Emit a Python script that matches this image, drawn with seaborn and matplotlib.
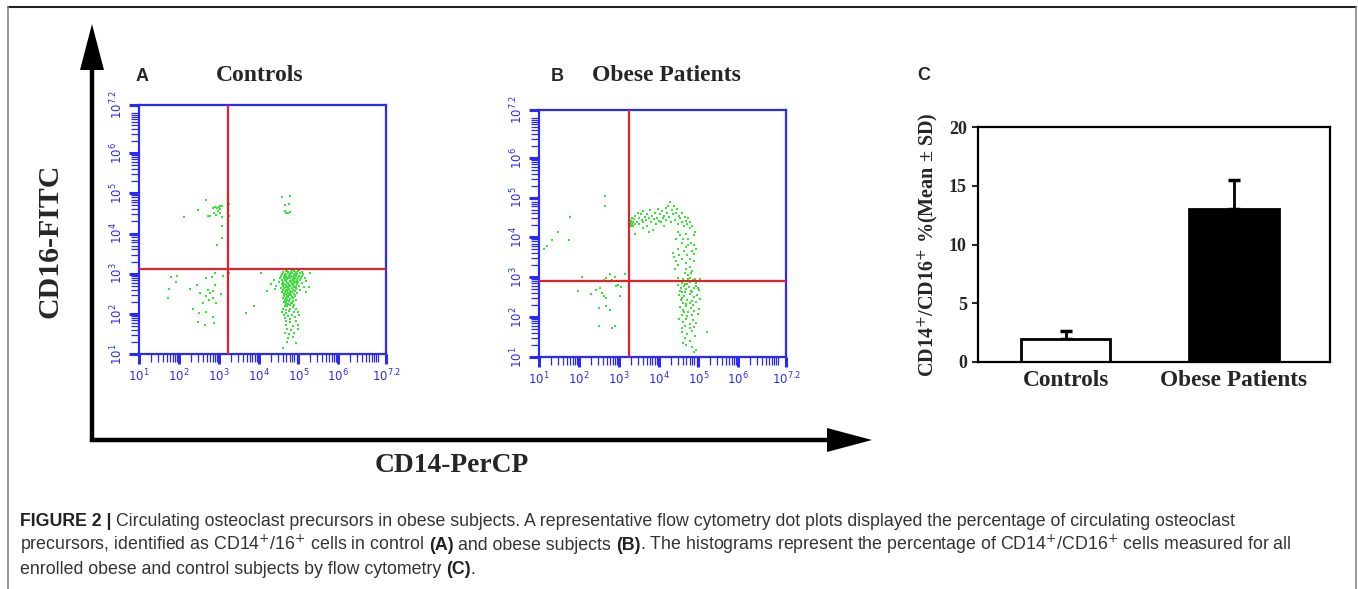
import numpy as np
import pandas as pd
import matplotlib
matplotlib.use("Agg")
import matplotlib.pyplot as plt
import seaborn as sns
from matplotlib.ticker import FixedLocator, FixedFormatter, NullFormatter

# --- data: log10 fluorescence (CD14-PerCP, CD16-FITC) ---

# (A) controls, one list per quadrant
ctrl_ul = [(2.68, 4.83), (2.49, 4.59), (2.12, 4.40), (2.73, 4.44), (2.79, 4.44), (2.86, 4.63),
           (2.90, 4.65), (2.96, 4.63), (3.01, 4.67), (3.04, 4.68), (3.08, 4.69), (2.98, 4.57),
           (3.04, 4.50), (2.93, 4.46), (3.08, 4.42), (3.26, 4.73), (3.26, 4.44), (3.09, 4.19),
           (3.09, 3.88), (2.97, 3.71), (3.03, 4.60), (2.88, 4.50)]
ctrl_ur = [(4.58, 4.90), (4.79, 4.93), (4.67, 4.70), (4.77, 4.73), (4.67, 4.57), (4.73, 4.52),
           (4.80, 4.54), (4.69, 4.50)]
ctrl_ll = [(1.80, 2.91), (1.95, 2.94), (1.94, 2.79), (1.75, 2.63), (1.72, 2.39), (2.27, 2.61),
           (2.46, 2.72), (2.52, 2.53), (2.68, 2.89), (2.82, 2.91), (2.90, 3.01), (3.11, 2.94),
           (2.90, 2.72), (2.73, 2.59), (2.78, 2.51), (2.86, 2.58), (2.76, 2.34), (2.86, 2.39),
           (2.94, 2.28), (3.07, 2.49), (2.68, 2.44), (2.36, 2.13), (2.68, 2.05), (2.51, 2.01),
           (2.61, 2.26), (2.49, 1.80), (2.65, 1.72), (2.86, 1.93), (2.88, 1.76)]
ctrl_lr = [(3.26, 3.01), (3.68, 2.03), (3.89, 2.20), (4.07, 3.01), (4.22, 2.58), (4.32, 2.74),
           (5.29, 3.01), (5.27, 2.68), (4.38, 2.85), (4.42, 2.62), (5.20, 2.82), (5.18, 2.55),
           (4.66, 3.11), (4.72, 3.09), (4.78, 3.12), (4.85, 3.10), (4.90, 3.08), (4.96, 3.11), (5.02, 3.09),
           (4.62, 3.04), (4.70, 3.06), (4.75, 3.03), (4.81, 3.05), (4.88, 3.07), (4.93, 3.04), (5.00, 3.06),
           (5.08, 3.03), (4.60, 3.00), (4.66, 2.98), (4.73, 3.01), (4.79, 2.99), (4.84, 3.02), (4.91, 2.98),
           (4.97, 3.00), (5.04, 3.01), (5.12, 2.99), (4.57, 2.95), (4.64, 2.94), (4.70, 2.96), (4.77, 2.93),
           (4.82, 2.95), (4.88, 2.96), (4.95, 2.94), (5.01, 2.95), (5.10, 2.93), (4.55, 2.90), (4.63, 2.89),
           (4.68, 2.91), (4.74, 2.88), (4.80, 2.90), (4.86, 2.91), (4.92, 2.89), (4.99, 2.90), (5.06, 2.88),
           (5.16, 2.90), (4.60, 2.85), (4.67, 2.84), (4.72, 2.86), (4.78, 2.83), (4.85, 2.85), (4.90, 2.86),
           (4.97, 2.84), (5.03, 2.85), (4.52, 2.80), (4.62, 2.79), (4.69, 2.81), (4.75, 2.78), (4.81, 2.80),
           (4.88, 2.81), (4.94, 2.79), (5.00, 2.80), (5.08, 2.78), (4.58, 2.75), (4.65, 2.74), (4.71, 2.76),
           (4.77, 2.73), (4.83, 2.75), (4.90, 2.76), (4.96, 2.74), (4.45, 2.70), (4.61, 2.69), (4.68, 2.71),
           (4.74, 2.68), (4.80, 2.70), (4.86, 2.71), (4.93, 2.69), (5.02, 2.70), (5.14, 2.68), (4.57, 2.65),
           (4.64, 2.64), (4.70, 2.66), (4.76, 2.63), (4.83, 2.65), (4.89, 2.66), (4.95, 2.64), (4.62, 2.60),
           (4.68, 2.59), (4.74, 2.61), (4.80, 2.58), (4.87, 2.60), (4.94, 2.61), (5.05, 2.59), (4.60, 2.55),
           (4.66, 2.54), (4.72, 2.56), (4.78, 2.53), (4.84, 2.55), (4.91, 2.56), (4.63, 2.50), (4.69, 2.49),
           (4.75, 2.51), (4.82, 2.48), (4.88, 2.50), (4.97, 2.51), (4.65, 2.45), (4.71, 2.44), (4.77, 2.46),
           (4.84, 2.43), (4.92, 2.45), (4.62, 2.40), (4.68, 2.39), (4.74, 2.41), (4.80, 2.38), (4.87, 2.40),
           (4.66, 2.35), (4.72, 2.34), (4.79, 2.36), (4.86, 2.33), (4.95, 2.35), (4.64, 2.30), (4.70, 2.29),
           (4.76, 2.31), (4.83, 2.28), (4.68, 2.25), (4.74, 2.24), (4.81, 2.26), (4.90, 2.23), (4.66, 2.20),
           (4.72, 2.19), (4.78, 2.21), (4.86, 2.18), (4.62, 2.12), (4.70, 2.10), (4.80, 2.13), (4.93, 2.11),
           (4.58, 2.05), (4.68, 2.03), (4.76, 2.06), (4.88, 2.04), (4.98, 2.05), (4.63, 1.97), (4.73, 1.95),
           (4.85, 1.98), (5.02, 1.96), (4.66, 1.90), (4.80, 1.88), (4.92, 1.91), (4.70, 1.82), (4.78, 1.80),
           (4.95, 1.83), (4.68, 1.72), (4.86, 1.70), (4.98, 1.73), (4.72, 1.62), (4.82, 1.60), (5.00, 1.63),
           (4.66, 1.52), (4.77, 1.50), (4.90, 1.53), (4.74, 1.40), (4.86, 1.42), (4.72, 1.30), (4.93, 1.28),
           (4.62, 1.15)]

# (B) obese patients
obese_ul = [(1.13, 3.71), (1.21, 3.79), (1.33, 3.93), (1.48, 4.15), (1.77, 4.51), (1.75, 3.94),
            (2.65, 5.04), (2.65, 4.78)]
obese_ll = [(2.09, 3.00), (1.98, 2.65), (2.31, 2.58), (2.44, 2.69), (2.52, 2.73), (2.68, 2.98),
            (2.78, 3.09), (2.90, 3.00), (2.98, 2.81), (2.84, 2.94), (3.15, 3.08), (3.07, 2.75),
            (3.04, 2.54), (2.93, 2.77), (2.62, 2.54), (2.69, 2.48), (2.78, 2.19), (2.68, 2.27),
            (2.50, 2.23), (2.50, 1.79), (2.84, 1.73), (2.91, 1.77), (2.62, 2.94), (2.57, 2.60)]
obese_ur = [(3.27, 4.38), (3.28, 4.32), (3.29, 4.45), (3.30, 4.36), (3.31, 4.28), (3.32, 4.42),
            (3.33, 4.35), (3.35, 4.30), (3.36, 4.40), (3.38, 4.47), (3.34, 4.50), (3.40, 4.33),
            (3.42, 4.55), (3.45, 4.40), (3.48, 4.62), (3.50, 4.48), (3.52, 4.35), (3.55, 4.58),
            (3.58, 4.45), (3.60, 4.66), (3.62, 4.38), (3.65, 4.52), (3.68, 4.44), (3.70, 4.60),
            (3.72, 4.30), (3.75, 4.48), (3.78, 4.70), (3.80, 4.40), (3.83, 4.55), (3.85, 4.20),
            (3.88, 4.46), (3.90, 4.62), (3.93, 4.35), (3.96, 4.50), (3.98, 4.72), (4.00, 4.42),
            (4.03, 4.58), (4.06, 4.38), (4.08, 4.66), (4.10, 4.48), (4.13, 4.30), (4.15, 4.55),
            (4.18, 4.74), (4.20, 4.45), (4.22, 4.62), (4.25, 4.80), (4.27, 4.52), (4.30, 4.88),
            (4.32, 4.40), (4.34, 4.68), (4.37, 4.58), (4.40, 4.78), (4.42, 4.45), (4.45, 4.62),
            (4.47, 4.72), (4.50, 4.35), (4.52, 4.55), (4.55, 4.48), (4.58, 4.40), (4.60, 4.62),
            (4.63, 4.30), (4.66, 4.52), (4.68, 4.42), (4.72, 4.35), (4.75, 4.48), (4.78, 4.25),
            (4.80, 4.40), (4.83, 4.30), (3.40, 4.10), (3.75, 4.14), (3.62, 4.25),
            (4.37, 3.60), (4.40, 3.50), (4.45, 3.40), (4.50, 3.30), (4.42, 3.20), (4.48, 3.72),
            (4.52, 3.55), (4.55, 4.05), (4.45, 3.95), (4.58, 3.85), (4.50, 4.15),
            (4.70, 4.10), (4.75, 3.95), (4.82, 3.85), (4.68, 3.75), (4.85, 3.65), (4.72, 3.55),
            (4.80, 3.45), (4.88, 3.40), (4.70, 3.35), (4.78, 3.25), (4.85, 3.15), (4.66, 3.10),
            (4.75, 3.05), (4.90, 3.80), (4.90, 4.05), (4.62, 3.95), (4.65, 3.65), (4.88, 3.58),
            (4.73, 3.82), (4.68, 3.20), (4.82, 3.12), (4.60, 3.45), (4.95, 3.70), (4.92, 4.15)]
obese_lr = [(4.48, 2.98), (4.55, 2.92), (4.62, 2.96), (4.68, 2.90), (4.74, 2.95), (4.80, 2.88),
            (4.86, 2.93), (4.92, 2.97), (5.00, 2.90), (4.58, 2.86), (4.66, 2.84), (4.78, 2.99),
            (4.95, 2.85), (5.04, 2.95), (4.50, 2.80), (4.57, 2.74), (4.63, 2.78), (4.70, 2.70),
            (4.76, 2.76), (4.82, 2.66), (4.88, 2.72), (4.95, 2.79), (5.02, 2.68), (4.54, 2.65),
            (4.60, 2.62), (4.72, 2.82), (4.85, 2.62), (4.98, 2.74), (4.67, 2.64), (4.52, 2.55),
            (4.58, 2.48), (4.65, 2.52), (4.72, 2.44), (4.78, 2.57), (4.84, 2.40), (4.90, 2.50),
            (4.97, 2.56), (5.03, 2.45), (4.62, 2.36), (4.70, 2.32), (4.80, 2.35), (4.93, 2.38),
            (4.56, 2.42), (4.87, 2.30), (4.55, 2.25), (4.62, 2.18), (4.68, 2.28), (4.75, 2.12),
            (4.82, 2.22), (4.90, 2.15), (4.98, 2.08), (4.60, 2.05), (4.72, 2.02), (4.85, 2.06),
            (5.02, 2.20), (4.65, 2.12), (4.52, 1.95), (4.62, 1.88), (4.70, 1.96), (4.78, 1.82),
            (4.86, 1.92), (4.95, 1.85), (4.66, 1.78), (4.80, 1.74), (4.58, 1.72), (4.90, 1.76),
            (4.60, 1.62), (4.72, 1.58), (4.85, 1.65), (4.66, 1.48), (4.78, 1.40), (4.92, 1.52),
            (4.70, 1.30), (4.83, 1.25), (4.95, 1.18), (4.88, 1.12), (4.62, 1.36), (5.22, 1.62)]

# quadrant gates (log10 CD14, log10 CD16)
ctrl_gate = (3.24, 3.11)
obese_gate = (3.26, 2.91)

decades = [1, 2, 3, 4, 5, 6, 7.2]
decade_labels = [r"$10^{1}$", r"$10^{2}$", r"$10^{3}$", r"$10^{4}$", r"$10^{5}$", r"$10^{6}$", r"$10^{7.2}$"]

# (C) CD14+/CD16+ percentage
groups = ["Controls", "Obese Patients"]
pct_mean = [2.0, 13.0]
pct_sd = [0.6, 2.5]
bar_colors = ["white", "black"]

# --- styling ---
BLUE = "#2a2aff"
RED = "#e3202c"
DOT = "#33e633"
SERIF = "Liberation Serif"
SANS = "Liberation Sans"
W, H = 1358, 589

sns.set_style("white")
plt.rcParams["font.family"] = [SANS, "DejaVu Sans"]
plt.rcParams["mathtext.fontset"] = "dejavusans"

fig = plt.figure(figsize=(W / 100, H / 100), dpi=100)

# background axes in pixel units for arrows, frame, titles and caption
bg = fig.add_axes([0, 0, 1, 1])
bg.set_xlim(0, W)
bg.set_ylim(H, 0)
bg.axis("off")


def px_axes(x0, y0, x1, y1):
    return fig.add_axes([x0 / W, 1 - y1 / H, (x1 - x0) / W, (y1 - y0) / H])


def dot_plot(ax, quads, gate):
    pts = pd.DataFrame([p for q in quads for p in q], columns=["cd14", "cd16"])
    sns.scatterplot(x=10 ** pts["cd14"], y=10 ** pts["cd16"], ax=ax, color=DOT,
                    marker="s", s=4, linewidth=0, zorder=3)
    ax.set_xscale("log")
    ax.set_yscale("log")
    lo, hi = 10 ** decades[0], 10 ** decades[-1]
    ax.set_xlim(lo, hi)
    ax.set_ylim(lo, hi)
    ax.axvline(10 ** gate[0], color=RED, lw=1.6, zorder=4)
    ax.axhline(10 ** gate[1], color=RED, lw=1.6, zorder=4)
    ax.set_xlabel("")
    ax.set_ylabel("")
    minor = [k * 10 ** d for d in range(1, 7) for k in range(2, 11)]
    for axis in (ax.xaxis, ax.yaxis):
        axis.set_major_locator(FixedLocator([10 ** d for d in decades]))
        axis.set_major_formatter(FixedFormatter(decade_labels))
        axis.set_minor_locator(FixedLocator(minor))
        axis.set_minor_formatter(NullFormatter())
    ax.tick_params(which="major", direction="out", length=7, width=2.2, color=BLUE,
                   labelcolor=BLUE, labelsize=8.5, left=True, bottom=True, pad=3)
    ax.tick_params(which="minor", direction="out", length=6, width=0.9, color=BLUE,
                   left=True, bottom=True)
    for lab in ax.get_yticklabels():
        lab.set_rotation(90)
        lab.set_va("center")
    for sp in ax.spines.values():
        sp.set_color(BLUE)
        sp.set_linewidth(1.6)
        sp.set_visible(True)
    ax.set_facecolor("white")


ax_a = px_axes(139, 105, 386, 354)
dot_plot(ax_a, [ctrl_ul, ctrl_ur, ctrl_ll, ctrl_lr], ctrl_gate)
ax_b = px_axes(539, 110, 786, 357)
dot_plot(ax_b, [obese_ul, obese_ur, obese_ll, obese_lr], obese_gate)

# panel C bars
ax_c = px_axes(978, 127, 1330, 362)
bar_df = pd.DataFrame({"group": groups, "pct": pct_mean})
sns.barplot(data=bar_df, x="group", y="pct", hue="group", palette=bar_colors,
            edgecolor="black", linewidth=2, width=0.53, legend=False, ax=ax_c, zorder=2)
ax_c.errorbar(x=np.arange(len(groups)), y=pct_mean, yerr=[np.zeros(len(groups)), pct_sd],
              fmt="none", ecolor="black", elinewidth=2, capsize=4, capthick=2.5, zorder=1)
ax_c.set_xlim(-0.52, 1.57)
ax_c.set_ylim(0, 20)
ax_c.set_yticks([0, 5, 10, 15, 20])
ax_c.tick_params(axis="y", direction="out", length=4, width=1.5, left=True, pad=4)
ax_c.tick_params(axis="x", length=0, pad=6)
for lab in ax_c.get_yticklabels():
    lab.set_fontfamily(SERIF)
    lab.set_fontweight("bold")
    lab.set_fontsize(13)
for lab in ax_c.get_xticklabels():
    lab.set_fontfamily(SERIF)
    lab.set_fontweight("bold")
    lab.set_fontsize(16.8)
ax_c.set_xlabel("")
ax_c.set_ylabel("CD14$^{+}$/CD16$^{+}$ %(Mean ± SD)", fontfamily=SERIF, fontweight="bold",
                fontsize=14.5, labelpad=6)
for sp in ax_c.spines.values():
    sp.set_color("black")
    sp.set_linewidth(1.6)
    sp.set_visible(True)

# big axis arrows
bg.plot([92, 92, 830], [70, 440, 440], color="black", lw=3.2, solid_joinstyle="miter",
        solid_capstyle="butt")
bg.fill([80, 104, 92], [70, 70, 24], color="black", lw=0)
bg.fill([827, 827, 872], [428, 452, 440], color="black", lw=0)
bg.text(50, 241, "CD16-FITC", rotation=90, ha="center", va="center", fontfamily=SERIF,
        fontweight="bold", fontsize=21.5)
bg.text(452, 465, "CD14-PerCP", ha="center", va="center", fontfamily=SERIF,
        fontweight="bold", fontsize=19.8)

# panel titles
bg.text(136, 81, "A", fontfamily=SANS, fontweight="bold", fontsize=13, va="baseline")
bg.text(216, 81, "Controls", fontfamily=SERIF, fontweight="bold", fontsize=17, va="baseline")
bg.text(551, 81, "B", fontfamily=SANS, fontweight="bold", fontsize=13, va="baseline")
bg.text(592, 81, "Obese Patients", fontfamily=SERIF, fontweight="bold", fontsize=17, va="baseline")
bg.text(917, 80, "C", fontfamily=SANS, fontweight="bold", fontsize=13, va="baseline")

# frame around the figure
bg.plot([8, 1356], [7, 7], color="#222222", lw=1.5)
bg.plot([8, 8], [7, H], color="#888888", lw=1.2)
bg.plot([1356, 1356], [7, H], color="#888888", lw=1.2)

# caption with bold runs
caption = [
    [("FIGURE 2 |", True, True),
     ("Circulating osteoclast precursors in obese subjects. A representative flow cytometry dot "
      "plots displayed the percentage of circulating osteoclast", False, False)],
    [("precursors, identified as CD14$^{+}$/16$^{+}$ cells in control", False, True),
     ("(A)", True, True), ("and obese subjects", False, True), ("(B)", True, False),
     (". The histograms represent the percentage of CD14$^{+}$/CD16$^{+}$ cells measured for all",
      False, False)],
    [("enrolled obese and control subjects by flow cytometry", False, True),
     ("(C)", True, False), (".", False, False)],
]
cap_size = 12.8
renderer = fig.canvas.get_renderer()
probe = bg.text(0, 0, "x x", fontsize=cap_size)
w2 = probe.get_window_extent(renderer).width
probe.set_text("xx")
space_w = w2 - probe.get_window_extent(renderer).width
probe.remove()
for i, line in enumerate(caption):
    x = 20
    y = 526 + i * 24
    for txt, bold, space in line:
        t = bg.text(x, y, txt, fontsize=cap_size, fontweight="bold" if bold else "normal",
                    color="#222222" if bold else "#333333", va="baseline", ha="left")
        x += t.get_window_extent(renderer).width + (space_w if space else 0)

fig.savefig("out.png", dpi=100, facecolor="white")
